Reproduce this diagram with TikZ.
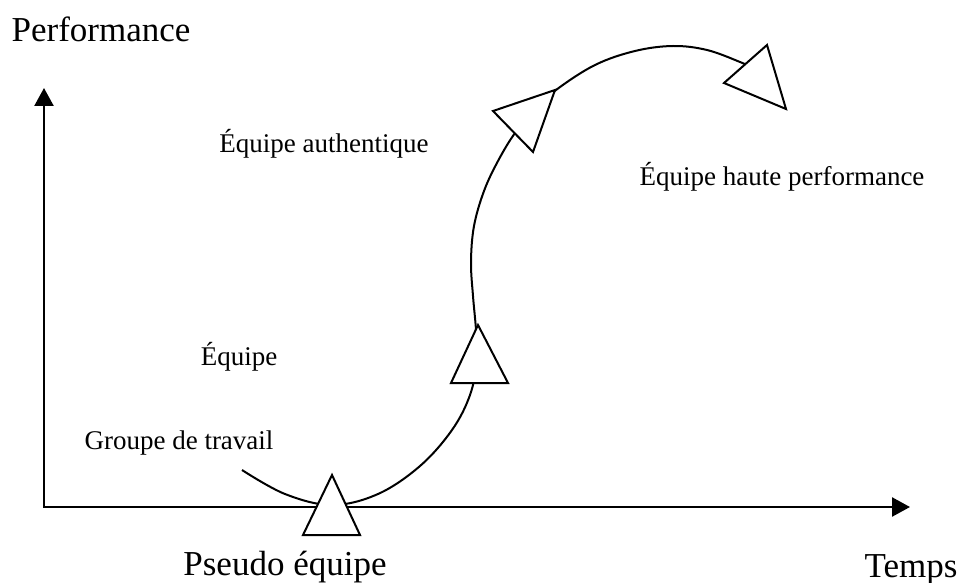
\documentclass[tikz,border=0pt]{standalone}
\usepackage{fontspec}
\setmainfont{Liberation Serif}
\usetikzlibrary{arrows.meta}

\begin{document}
\begin{tikzpicture}[x=1pt,y=-1pt,
    axis/.style={line width=2.4pt,line join=miter,
      {Triangle[length=18pt,width=19pt]}-{Triangle[length=18pt,width=19pt]}},
    big/.style={font=\fontsize{35}{40}\selectfont,anchor=base,inner sep=0pt},
    lbl/.style={font=\fontsize{27}{32}\selectfont,anchor=base,inner sep=0pt},
    tri/.style={line width=2pt,fill=white,line join=miter}]
  \useasboundingbox (0,0) rectangle (963,583);
  \coordinate (O) at (44,507);
  \coordinate (Ytip) at (44,88);
  \coordinate (Xtip) at (910,507);
  \draw[axis] (Ytip) -- (O) -- (Xtip);
  % the curve
  \draw[line width=2pt] plot[smooth,tension=0.6] coordinates {
    (242,470) (285,494) (332,505) (378,494) (420,466) (452,430)
    (470,395) (477,360) (476,330) (473,296) (471,262) (474,226)
    (484,191) (498,161) (515,133) (535,110) (556,90) (595,65)
    (635,51) (673,46) (707,50) (740,62) (750,67)};
  % triangles
  \draw[tri] (303,535) -- (332,475) -- (360,535) -- cycle;
  \draw[tri] (451,383) -- (478,325) -- (508,383) -- cycle;
  \draw[tri] (493,111) -- (555,90) -- (533,152) -- cycle;
  \draw[tri] (724,83) -- (786,109) -- (767,45) -- cycle;
  % labels
  \node[big] (perf) at (101,42) {Performance};
  \node[big] (temps) at (911,577) {Temps};
  \node[big] (pseudo) at (285,575) {Pseudo équipe};
  \node[lbl] (groupe) at (179,449) {Groupe de travail};
  \node[lbl] (equipe) at (239,365) {Équipe};
  \node[lbl] (authentique) at (324,153) {Équipe authentique};
  \node[lbl] (haute) at (782,185) {Équipe haute performance};
\end{tikzpicture}
\end{document}
